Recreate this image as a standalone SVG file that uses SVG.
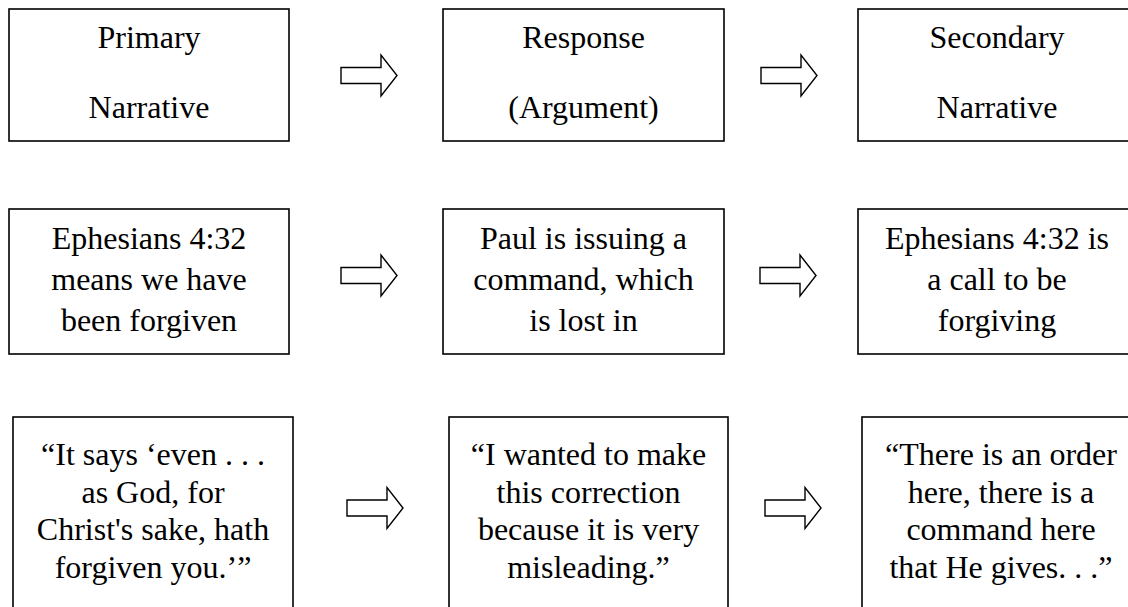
<svg xmlns="http://www.w3.org/2000/svg" width="1128" height="607" viewBox="0 0 1128 607">
<defs>
<style>
.box{fill:#fff;stroke:#000;stroke-width:1.6}
.t{font-family:"Liberation Serif","Times New Roman",serif;font-size:32px;fill:#000;text-anchor:middle}
.arr{fill:#fff;stroke:#000;stroke-width:1.4;stroke-linejoin:miter}
</style>
<path id="ar" d="M0,-8 H40 V-20.5 L56,0 L40,20.5 V8 H0 Z"/>
</defs>
<rect width="1128" height="607" fill="#fff"/>
<g id="connectors">
<use href="#ar" class="arr" x="341" y="75.5"/>
<use href="#ar" class="arr" x="761" y="75.5"/>
<use href="#ar" class="arr" x="341" y="275.5"/>
<use href="#ar" class="arr" x="760" y="275.5"/>
<use href="#ar" class="arr" x="347" y="508"/>
<use href="#ar" class="arr" x="765" y="508"/>
</g>
<g id="n1"><rect class="box" x="9" y="9" width="280" height="132"/><text class="t" x="149" y="48">Primary</text><text class="t" x="149" y="118">Narrative</text></g>
<g id="n2"><rect class="box" x="443" y="9" width="281" height="132"/><text class="t" x="583.5" y="48">Response</text><text class="t" x="583.5" y="118">(Argument)</text></g>
<g id="n3"><rect class="box" x="858" y="9" width="290" height="132"/><text class="t" x="997" y="48">Secondary</text><text class="t" x="997" y="118">Narrative</text></g>
<g id="n4"><rect class="box" x="9" y="209" width="280" height="145"/><text class="t" x="149" y="249">Ephesians 4:32</text><text class="t" x="149" y="290">means we have</text><text class="t" x="149" y="331">been forgiven</text></g>
<g id="n5"><rect class="box" x="443" y="209" width="281" height="145"/><text class="t" x="583.5" y="249">Paul is issuing a</text><text class="t" x="583.5" y="290">command, which</text><text class="t" x="583.5" y="331">is lost in</text></g>
<g id="n6"><rect class="box" x="858" y="209" width="290" height="145"/><text class="t" x="997" y="249">Ephesians 4:32 is</text><text class="t" x="997" y="290">a call to be</text><text class="t" x="997" y="331">forgiving</text></g>
<g id="n7"><rect class="box" x="13" y="417" width="280" height="210"/><text class="t" x="153" y="465">“It says ‘even . . .</text><text class="t" x="153" y="502.5">as God, for</text><text class="t" x="153" y="540">Christ's sake, hath</text><text class="t" x="153" y="577.5">forgiven you.’”</text></g>
<g id="n8"><rect class="box" x="449" y="417" width="279" height="210"/><text class="t" x="588.5" y="465">“I wanted to make</text><text class="t" x="588.5" y="502.5">this correction</text><text class="t" x="588.5" y="540">because it is very</text><text class="t" x="588.5" y="577.5">misleading.”</text></g>
<g id="n9"><rect class="box" x="862" y="417" width="290" height="210"/><text class="t" x="1001" y="465">“There is an order</text><text class="t" x="1001" y="502.5">here, there is a</text><text class="t" x="1001" y="540">command here</text><text class="t" x="1001" y="577.5">that He gives. . .”</text></g>
</svg>
